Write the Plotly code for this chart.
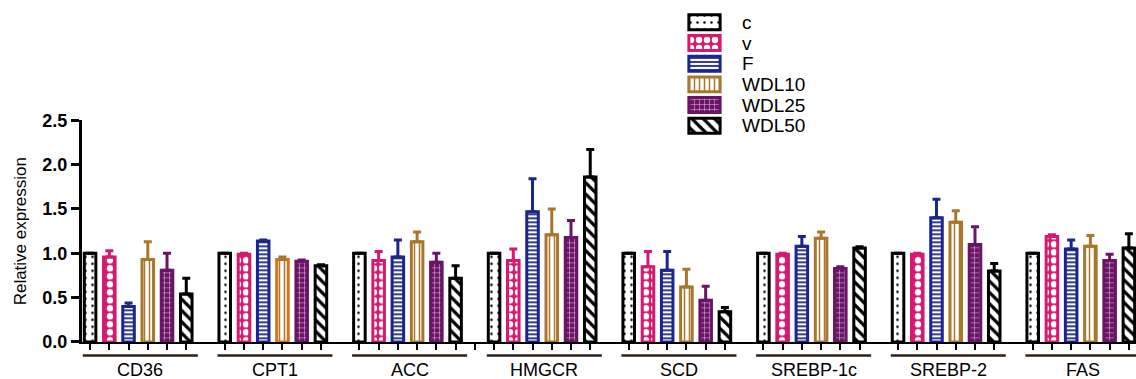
import plotly.graph_objects as go

# ---------------- data ----------------
genes = ["CD36", "CPT1", "ACC", "HMGCR", "SCD", "SREBP-1c", "SREBP-2", "FAS"]
series = ["c", "v", "F", "WDL10", "WDL25", "WDL50"]

c_mean = [1.0, 1.0, 1.0, 1.0, 1.0, 1.0, 1.0, 1.0]
c_err = [0, 0, 0, 0, 0, 0, 0, 0]
v_mean = [0.96, 0.99, 0.92, 0.92, 0.85, 0.99, 0.99, 1.19]
v_err = [0.07, 0.01, 0.10, 0.13, 0.17, 0.01, 0.01, 0.02]
F_mean = [0.40, 1.14, 0.96, 1.47, 0.81, 1.08, 1.40, 1.05]
F_err = [0.04, 0.01, 0.19, 0.37, 0.21, 0.11, 0.21, 0.10]
WDL10_mean = [0.93, 0.93, 1.13, 1.21, 0.62, 1.17, 1.35, 1.08]
WDL10_err = [0.20, 0.03, 0.11, 0.29, 0.20, 0.07, 0.13, 0.12]
WDL25_mean = [0.81, 0.91, 0.90, 1.18, 0.47, 0.83, 1.10, 0.92]
WDL25_err = [0.19, 0.015, 0.10, 0.19, 0.16, 0.02, 0.20, 0.07]
WDL50_mean = [0.54, 0.86, 0.72, 1.86, 0.34, 1.06, 0.80, 1.06]
WDL50_err = [0.18, 0.01, 0.14, 0.31, 0.05, 0.015, 0.085, 0.16]

y_ticks = [0.0, 0.5, 1.0, 1.5, 2.0, 2.5]
y_title = "Relative expression"

means = [c_mean, v_mean, F_mean, WDL10_mean, WDL25_mean, WDL50_mean]
errs = [c_err, v_err, F_err, WDL10_err, WDL25_err, WDL50_err]

# ---------------- styles ----------------
FONT = "Liberation Sans, Arial, sans-serif"
styles = {
    "c":     dict(line="#000000", bg="#ffffff", fg="#000000", shape=".",  size=7, sol=0.1),
    "v":     dict(line="#d6186f", bg="#d6186f", fg="#ffffff", shape=".",  size=8, sol=0.5),
    "F":     dict(line="#1b2590", bg="#ffffff", fg="#1b2590", shape="-",  size=4, sol=0.45),
    "WDL10": dict(line="#a8772a", bg="#ffffff", fg="#a8772a", shape="|",  size=5, sol=0.3),
    "WDL25": dict(line="#6b1366", bg="#6b1366", fg="#ffffff", shape="+",  size=5, sol=0.15),
    "WDL50": dict(line="#000000", bg="#ffffff", fg="#000000", shape="\\", size=8, sol=0.4),
}
# CPT1 WDL10 bar is drawn in a more orange tone in the reference
special_line = {("WDL10", "CPT1"): "#d9731a"}

SLOT = len(series) + 1          # 6 bars + one empty slot per gene group
BAR_W = 0.6
LINE_W = 3

fig = go.Figure()

for si, name in enumerate(series):
    st = styles[name]
    xs = [gi * SLOT + si for gi in range(len(genes))]
    line_colors = [special_line.get((name, g), st["line"]) for g in genes]
    fig.add_trace(go.Bar(
        x=xs, y=means[si], width=BAR_W, name=name, showlegend=False,
        marker=dict(
            color=st["bg"],
            line=dict(color=line_colors, width=LINE_W),
            pattern=dict(shape=st["shape"], bgcolor=st["bg"], fgcolor=st["fg"],
                         size=st["size"], solidity=st["sol"], fillmode="replace"),
        ),
        error_y=dict(type="data", symmetric=False, array=errs[si],
                     arrayminus=[0] * len(genes), color=st["line"],
                     thickness=3, width=4),
        xaxis="x", yaxis="y",
    ))

# legend drawn as a small inset of horizontal bars
for si, name in enumerate(series):
    st = styles[name]
    fig.add_trace(go.Bar(
        x=[1], y=[si], orientation="h", width=0.72, showlegend=False,
        marker=dict(
            color=st["bg"],
            line=dict(color=st["line"], width=LINE_W),
            pattern=dict(shape=st["shape"], bgcolor=st["bg"], fgcolor=st["fg"],
                         size=st["size"], solidity=st["sol"], fillmode="replace"),
        ),
        xaxis="x2", yaxis="y2", hoverinfo="skip",
    ))
    fig.add_annotation(x=1.06, y=si, xref="x2", yref="y2", text=name,
                       showarrow=False, xanchor="left", yanchor="middle",
                       xshift=18, font=dict(family=FONT, size=19, color="#000000"))

# tick positions under each bar (+ the one extra tick seen in the gap before HMGCR)
bar_ticks = [gi * SLOT + si for gi in range(len(genes)) for si in range(len(series))]
extra_ticks = [3 * SLOT - 1]
tickvals = sorted(bar_ticks + extra_ticks)

# group brackets and labels
W, H = 1136, 379
ML, MR, MT, MB = 82, 0, 5, 37
plot_h = H - MT - MB
for gi, g in enumerate(genes):
    x0 = gi * SLOT - 0.38
    x1 = gi * SLOT + len(series) - 0.4
    fig.add_shape(type="line", xref="x", yref="paper", x0=x0, x1=x1,
                  y0=-13.7 / plot_h, y1=-13.7 / plot_h,
                  line=dict(color="#2e2118", width=2.5))
    fig.add_annotation(x=(x0 + x1) / 2, y=-28 / plot_h, xref="x", yref="paper",
                       text=g, showarrow=False, xanchor="center", yanchor="middle",
                       font=dict(family=FONT, size=18, color="#000000"))

main_top = (342 - 117) / plot_h

fig.update_layout(
    width=W, height=H,
    margin=dict(l=ML, r=MR, t=MT, b=MB),
    paper_bgcolor="#ffffff", plot_bgcolor="#ffffff",
    barmode="overlay",
    font=dict(family=FONT, color="#000000"),
    xaxis=dict(domain=[0, 1], range=[-0.42, 54.37], showgrid=False, zeroline=False,
               showline=True, linecolor="#000000", linewidth=2,
               tickvals=tickvals, ticks="outside", ticklen=6, tickwidth=2,
               tickcolor="#000000", showticklabels=False, fixedrange=True),
    yaxis=dict(domain=[0, main_top], range=[0, 2.5], tickvals=y_ticks,
               tickformat=".1f", showgrid=False, zeroline=False,
               showline=True, linecolor="#000000", linewidth=3,
               ticks="outside", ticklen=8, tickwidth=2.5, tickcolor="#000000",
               tickfont=dict(family=FONT, size=18, weight="bold", color="#000000"),
               title=dict(text=y_title, standoff=12,
                          font=dict(family=FONT, size=17, color="#000000"))),
    xaxis2=dict(domain=[0.574, 0.6072], range=[-0.06, 1.06], anchor="y2",
                visible=False, fixedrange=True),
    yaxis2=dict(domain=[(342 - 133) / plot_h, (342 - 7) / plot_h],
                range=[5.5, -0.5], anchor="x2", visible=False, fixedrange=True),
)

fig.write_html(
    "out.html",
    config={"displayModeBar": False},
    post_script="document.body.style.margin='0';document.body.style.overflow='hidden';",
)
